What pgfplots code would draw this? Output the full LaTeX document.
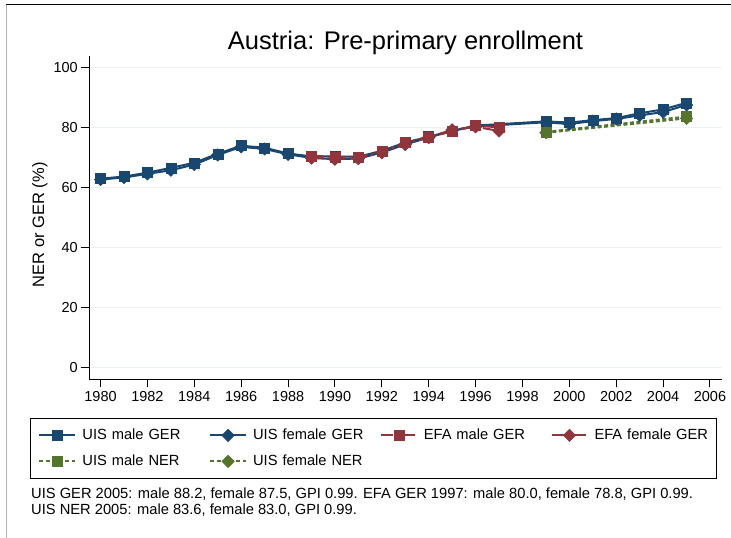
\documentclass[border=0pt]{standalone}
\usepackage{pgfplots}
\pgfplotsset{compat=1.18}
\usepackage{fontspec}
\setmainfont{Liberation Sans}
\definecolor{uisblue}{HTML}{1A476F}
\definecolor{efared}{HTML}{90353B}
\definecolor{nergreen}{HTML}{55752F}
\definecolor{gridc}{HTML}{EAF2F3}
\begin{document}
\begin{tikzpicture}[x=1pt,y=1pt]
\useasboundingbox (0,0) rectangle (731,538);
\draw[gray!60, line width=1pt] (6,0) -- (6,533);
\draw[black, line width=1pt] (6,533) -- (731,533);
\begin{axis}[
  at={(89.3pt,158.7pt)}, anchor=south west,
  scale only axis, width=632.4pt, height=323.3pt,
  xmin=1979.52, xmax=2006.5, ymin=-4, ymax=103.8,
  axis lines*=left,
  axis line style={black, line width=1pt},
  tick align=outside, major tick length=8pt,
  tick style={black, line width=1pt},
  xtick={1980,1982,...,2006}, ytick={0,20,...,100},
  /pgf/number format/assume math mode=true,
  /pgf/number format/set thousands separator={},
  ticklabel style={font=\fontsize{14.5}{16}\selectfont},
  xticklabel style={yshift=-1pt},
  ymajorgrids, grid style={gridc, line width=1.5pt},
  ylabel={NER or GER (\%)},
  ylabel style={font=\fontsize{16.5}{18}\selectfont, at={(axis description cs:-0.078,0.478)}, anchor=center, rotate=0},
  title={Austria: Pre-primary enrollment},
  title style={font=\fontsize{25.5}{28}\selectfont, at={(axis description cs:0.5,1.0)}, anchor=base, yshift=0pt},
  legend columns=4, legend cell align=left,
  legend image code/.code={\draw[mark repeat=2,mark phase=2] plot coordinates {(0pt,0pt) (18pt,0pt) (36pt,0pt)};},
  legend style={at={(axis description cs:-0.09377,-0.1197)}, anchor=north west,
    draw=black, line width=0.8pt, inner xsep=8pt, inner ysep=10pt,
    font=\fontsize{14.7}{16}\selectfont, row sep=12pt,
    nodes={inner sep=0pt, text width=114pt, text height=11pt, text depth=3pt},
    /tikz/every odd column/.append style={column sep=6pt},
    /tikz/every even column/.append style={column sep=12.7pt}},
]
\addplot[uisblue, line width=2pt, mark=square*, mark size=5pt, mark options={solid, fill=uisblue, line width=0.5pt}] coordinates {
(1980,62.9) (1981,63.6) (1982,64.9) (1983,66.5) (1984,68.2) (1985,71.2) (1986,73.9) (1987,73.2) (1988,71.3) (1989,70.3) (1990,70.3) (1991,70.2) (1992,72.2) (1993,74.9) (1994,76.9) (1995,78.8) (1996,80.6) (1999,82.0) (2000,81.6) (2001,82.4) (2002,83.1) (2003,84.7) (2004,86.0) (2005,88.2)};
\addlegendentry{UIS male GER}
\addplot[uisblue, line width=2pt, mark=square*, mark size=4.4pt, mark options={solid, rotate=45, fill=uisblue, line width=0.5pt}] coordinates {
(1980,62.6) (1981,63.3) (1982,64.5) (1983,65.7) (1984,67.6) (1985,70.8) (1986,73.5) (1987,72.8) (1988,71.0) (1989,69.8) (1990,69.4) (1991,69.6) (1992,71.6) (1993,74.3) (1994,76.6) (1995,78.9) (1996,80.3) (1999,81.7) (2000,81.1) (2001,82.1) (2002,82.8) (2003,84.0) (2004,85.1) (2005,87.5)};
\addlegendentry{UIS female GER}
\addplot[efared, line width=2pt, dash pattern=on 12pt off 4pt on 2pt off 4pt, mark=square*, mark size=5pt, mark options={solid, fill=efared, line width=0.5pt}] coordinates {
(1989,70.5) (1990,70.2) (1991,70.1) (1992,72.1) (1993,75.0) (1994,76.8) (1995,78.6) (1996,80.6) (1997,80.0)};
\addlegendentry{EFA male GER}
\addplot[efared, line width=2pt, dash pattern=on 12pt off 4pt on 2pt off 4pt, mark=square*, mark size=4.4pt, mark options={solid, rotate=45, fill=efared, line width=0.5pt}] coordinates {
(1989,69.9) (1990,69.5) (1991,69.7) (1992,71.6) (1993,74.4) (1994,76.7) (1995,79.2) (1996,80.2) (1997,78.8)};
\addlegendentry{EFA female GER}
\addplot[nergreen, line width=2pt, dash pattern=on 4pt off 2.5pt, mark=square*, mark size=5pt, mark options={solid, fill=nergreen, line width=0.5pt}] coordinates {
(1999,78.5) (2005,83.6)};
\addlegendentry{UIS male NER}
\addplot[nergreen, line width=2pt, dash pattern=on 4pt off 2.5pt, mark=square*, mark size=4.4pt, mark options={solid, rotate=45, fill=nergreen, line width=0.5pt}] coordinates {
(1999,78.2) (2005,83.0)};
\addlegendentry{UIS female NER}
\end{axis}
\node[anchor=base west, font=\fontsize{14.7}{16}\selectfont, inner sep=0pt] at (31,39) {UIS GER 2005: male 88.2, female 87.5, GPI 0.99. EFA GER 1997: male 80.0, female 78.8, GPI 0.99.};
\node[anchor=base west, font=\fontsize{14.7}{16}\selectfont, inner sep=0pt] at (31,23) {UIS NER 2005: male 83.6, female 83.0, GPI 0.99.};
\end{tikzpicture}
\end{document}
